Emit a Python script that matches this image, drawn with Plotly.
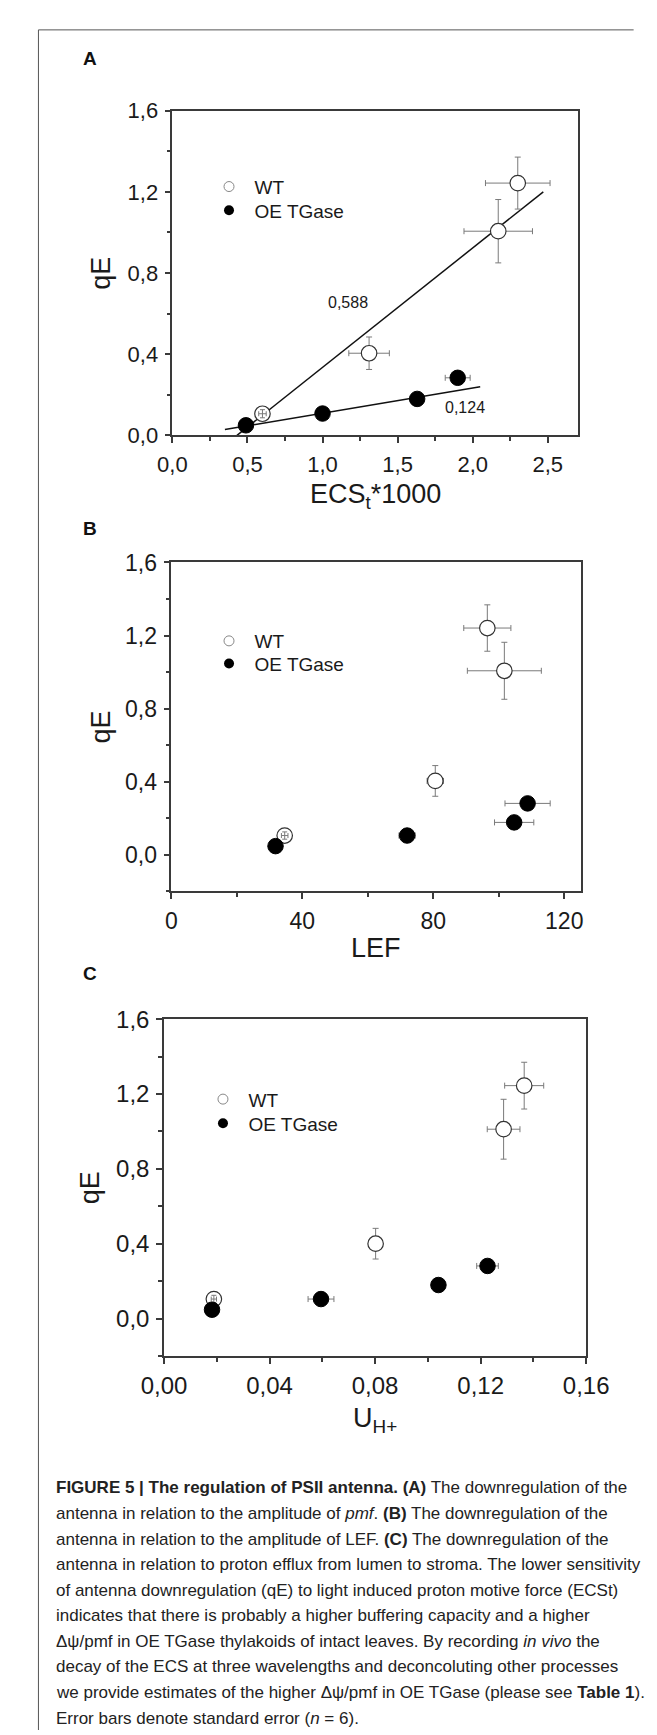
import plotly.graph_objects as go

W, H = 657, 1735
FONT = "Liberation Sans, Arial, sans-serif"

# ---------------- data ----------------
# Panel A: qE vs ECSt*1000
a_wt_x = [0.60, 1.31, 2.17, 2.30]
a_wt_y = [0.107, 0.405, 1.006, 1.243]
a_wt_ex = [0.025, 0.135, 0.228, 0.215]
a_wt_ey = [0.02, 0.08, 0.156, 0.128]
a_oe_x = [0.49, 1.00, 1.63, 1.90]
a_oe_y = [0.05, 0.108, 0.18, 0.284]
a_oe_ex = [0.01, 0.01, 0.04, 0.083]
a_oe_ey = [0.01, 0.01, 0.01, 0.01]
a_fit_wt_x = [0.43, 2.47]
a_fit_wt_y = [0.0, 1.20]
a_fit_oe_x = [0.35, 2.05]
a_fit_oe_y = [0.029, 0.24]
a_slope_labels = ["0,588", "0,124"]
a_slope_pos_x = [1.17, 1.95]
a_slope_pos_y = [0.653, 0.137]

# Panel B: qE vs LEF
b_wt_x = [34.6, 80.6, 96.5, 101.7]
b_wt_y = [0.105, 0.404, 1.241, 1.007]
b_wt_ex = [1.0, 2.5, 7.2, 11.3]
b_wt_ey = [0.02, 0.084, 0.127, 0.156]
b_oe_x = [31.8, 72.0, 104.7, 108.8]
b_oe_y = [0.047, 0.105, 0.177, 0.281]
b_oe_ex = [0.5, 2.5, 6.0, 6.9]
b_oe_ey = [0.01, 0.01, 0.01, 0.01]

# Panel C: qE vs U_H+
c_wt_x = [0.0189, 0.0802, 0.1287, 0.1365]
c_wt_y = [0.104, 0.40, 1.012, 1.245]
c_wt_ex = [0.001, 0.0022, 0.0062, 0.0074]
c_wt_ey = [0.02, 0.082, 0.16, 0.125]
c_oe_x = [0.0182, 0.0595, 0.104, 0.1226]
c_oe_y = [0.047, 0.104, 0.179, 0.281]
c_oe_ex = [0.0005, 0.0049, 0.002, 0.0041]
c_oe_ey = [0.01, 0.01, 0.01, 0.01]

series_names = ["WT", "OE TGase"]
panel_letters = ["A", "B", "C"]
x_titles = ["ECS<sub>t</sub>*1000", "LEF", "U<sub>H+</sub>"]
y_title = "qE"

caption_lines = [
    "<b>FIGURE 5 | The regulation of PSII antenna. (A)</b> The downregulation of the",
    "antenna in relation to the amplitude of <i>pmf</i>. <b>(B)</b> The downregulation of the",
    "antenna in relation to the amplitude of LEF. <b>(C)</b> The downregulation of the",
    "antenna in relation to proton efflux from lumen to stroma. The lower sensitivity",
    "of antenna downregulation (qE) to light induced proton motive force (ECSt)",
    "indicates that there is probably a higher buffering capacity and a higher",
    "\u0394\u03c8/pmf in OE TGase thylakoids of intact leaves. By recording <i>in vivo</i> the",
    "decay of the ECS at three wavelengths and deconcoluting other processes",
    "we provide estimates of the higher \u0394\u03c8/pmf in OE TGase (please see <b>Table 1</b>).",
    "Error bars denote standard error (<i>n</i> = 6).",
]

# ---------------- layout geometry (pixels) ----------------
def fx(p):
    return p / W

def fy(p):
    return 1 - p / H

panels = [
    dict(xpx=(152, 588), ypx=(90, 420), xr=[0, 2.7], yr=[0, 1.6], xdt=0.5, xminor=0.25,
         xfmt=".1f", letter_y=37, xtitle_y=482, ytitle_x=75, tick=22,
         leg_x=185.5, leg_y=(148, 172)),
    dict(xpx=(151, 591), ypx=(549, 883), xr=[0, 125], yr=[-0.2, 1.6], xdt=40, xminor=20,
         xfmt="d", letter_y=515, xtitle_y=941, ytitle_x=75, tick=23,
         leg_x=185.5, leg_y=(609.5, 632.5)),
    dict(xpx=(143, 597), ypx=(1013, 1355), xr=[0, 0.16], yr=[-0.2, 1.6], xdt=0.04, xminor=0.02,
         xfmt=".2f", letter_y=967, xtitle_y=1420, ytitle_x=63, tick=24,
         leg_x=179, leg_y=(1075, 1099.5)),
]

data = [
    (a_wt_x, a_wt_y, a_wt_ex, a_wt_ey, a_oe_x, a_oe_y, a_oe_ex, a_oe_ey),
    (b_wt_x, b_wt_y, b_wt_ex, b_wt_ey, b_oe_x, b_oe_y, b_oe_ex, b_oe_ey),
    (c_wt_x, c_wt_y, c_wt_ex, c_wt_ey, c_oe_x, c_oe_y, c_oe_ex, c_oe_ey),
]

fig = go.Figure()
AX = "#3a3a3a"
ERR = "#7a7a7a"
MSIZE = 15.5

layout = dict(
    width=W, height=H, margin=dict(l=0, r=0, t=0, b=0),
    paper_bgcolor="white", plot_bgcolor="white",
    separators=", ", showlegend=True,
    font=dict(family=FONT, color="#1a1a1a"),
)
annotations = []
shapes = []
leg_count = 0

for i, (p, d) in enumerate(zip(panels, data)):
    n = "" if i == 0 else str(i + 1)
    xa, ya = "x" + n, "y" + n
    wx, wy, wex, wey, ox, oy, oex, oey = d

    if i == 0:
        for lx, ly in [(a_fit_wt_x, a_fit_wt_y), (a_fit_oe_x, a_fit_oe_y)]:
            fig.add_trace(go.Scatter(x=lx, y=ly, mode="lines", xaxis=xa, yaxis=ya,
                                     line=dict(color="#111", width=1.5), showlegend=False,
                                     hoverinfo="skip"))

    fig.add_trace(go.Scatter(
        x=wx, y=wy, mode="markers", xaxis=xa, yaxis=ya, showlegend=False,
        marker=dict(size=MSIZE, color="white", line=dict(color="#333", width=1.2)),
        error_x=dict(type="data", array=wex, color=ERR, thickness=1, width=3),
        error_y=dict(type="data", array=wey, color=ERR, thickness=1, width=3),
    ))
    # points whose error bars lie wholly inside the open circle keep them visible
    # on top of it (the small "crosshair" look of the reference)
    sx = (p["xpx"][1] - p["xpx"][0]) / (p["xr"][1] - p["xr"][0])
    sy = (p["ypx"][1] - p["ypx"][0]) / (p["yr"][1] - p["yr"][0])
    rad = MSIZE / 2 - 1
    inner = [j for j in range(len(wx)) if wex[j] * sx < rad and wey[j] * sy < rad]
    if inner:
        fig.add_trace(go.Scatter(
            x=[wx[j] for j in inner], y=[wy[j] for j in inner], mode="markers",
            xaxis=xa, yaxis=ya, showlegend=False, hoverinfo="skip",
            marker=dict(size=1, opacity=0),
            error_x=dict(type="data", array=[wex[j] for j in inner], color=ERR,
                         thickness=1, width=2.5),
            error_y=dict(type="data", array=[wey[j] for j in inner], color=ERR,
                         thickness=1, width=2.5),
        ))
    fig.add_trace(go.Scatter(
        x=ox, y=oy, mode="markers", xaxis=xa, yaxis=ya, showlegend=False,
        marker=dict(size=MSIZE, color="black", line=dict(color="black", width=1)),
        error_x=dict(type="data", array=oex, color=ERR, thickness=1, width=3),
        error_y=dict(type="data", array=oey, color=ERR, thickness=1, width=3),
    ))
    # legend entries: one single-item legend per entry for exact placement
    leg_markers = [dict(size=10, color="white", line=dict(color="#888", width=1)),
                   dict(size=10, color="black")]
    for k in range(2):
        leg_count += 1
        legname = "legend" if leg_count == 1 else "legend%d" % leg_count
        fig.add_trace(go.Scatter(x=[None], y=[None], mode="markers", xaxis=xa, yaxis=ya,
                                 name=series_names[k], legend=legname, marker=leg_markers[k]))
        layout[legname] = dict(x=fx(p["leg_x"]), y=fy(p["leg_y"][k]), xanchor="left",
                               yanchor="top", bgcolor="rgba(0,0,0,0)",
                               font=dict(size=19, family=FONT, color="#1a1a1a"),
                               itemwidth=41)

    axis_common = dict(showline=True, linecolor=AX, linewidth=1.5, mirror=True,
                       ticks="outside", ticklen=6, tickwidth=1.5, tickcolor=AX,
                       showgrid=False, zeroline=False, ticklabelstandoff=2,
                       tickfont=dict(size=p["tick"], family=FONT, color="#1a1a1a"))
    layout["xaxis" + n] = dict(axis_common, domain=[fx(p["xpx"][0]), fx(p["xpx"][1])],
                               range=p["xr"], anchor=ya, dtick=p["xdt"], tick0=0,
                               tickformat=p["xfmt"],
                               minor=dict(ticks="outside", ticklen=4, tickwidth=1.5,
                                          tickcolor=AX, dtick=p["xminor"], tick0=0))
    layout["yaxis" + n] = dict(axis_common, domain=[fy(p["ypx"][1]), fy(p["ypx"][0])],
                               range=p["yr"], anchor=xa, dtick=0.4, tick0=0,
                               tickformat=".1f",
                               minor=dict(ticks="outside", ticklen=4, tickwidth=1.5,
                                          tickcolor=AX, dtick=0.2, tick0=0))

    # panel letter
    annotations.append(dict(text="<b>%s</b>" % panel_letters[i], x=fx(63), y=fy(p["letter_y"]),
                            xref="paper", yref="paper", showarrow=False, xanchor="center",
                            yanchor="middle", font=dict(size=19, family=FONT, color="#111")))
    # axis titles
    xc = (p["xpx"][0] + p["xpx"][1]) / 2
    annotations.append(dict(text=x_titles[i], x=fx(xc), y=fy(p["xtitle_y"]), xref="paper",
                            yref="paper", showarrow=False, xanchor="center", yanchor="middle",
                            font=dict(size=27, family=FONT, color="#1a1a1a")))
    yc = (p["ypx"][0] + p["ypx"][1]) / 2
    annotations.append(dict(text=y_title, x=fx(p["ytitle_x"]), y=fy(yc), xref="paper",
                            yref="paper", showarrow=False, textangle=-90, xanchor="center",
                            yanchor="middle", font=dict(size=27, family=FONT, color="#1a1a1a")))

# slope labels in panel A
for t, sx_, sy_ in zip(a_slope_labels, a_slope_pos_x, a_slope_pos_y):
    annotations.append(dict(text=t, x=sx_, y=sy_, xref="x", yref="y", showarrow=False,
                            font=dict(size=16, family=FONT, color="#1a1a1a")))

# caption
cap_top, cap_step = 1489, 26
for k, line in enumerate(caption_lines):
    annotations.append(dict(text=line, x=fx(25), y=fy(cap_top + k * cap_step), xref="paper",
                            yref="paper", showarrow=False, xanchor="left", yanchor="middle",
                            align="left", font=dict(size=17, family=FONT, color="#222")))

# outer frame (top and left)
shapes.append(dict(type="line", xref="paper", yref="paper", x0=fx(8), x1=fx(648), y0=fy(8), y1=fy(8),
                   line=dict(color="#555", width=1)))
shapes.append(dict(type="line", xref="paper", yref="paper", x0=fx(8), x1=fx(8), y0=fy(8), y1=0,
                   line=dict(color="#555", width=1)))

layout["annotations"] = annotations
layout["shapes"] = shapes
fig.update_layout(**layout)
fig.write_html("out.html")
